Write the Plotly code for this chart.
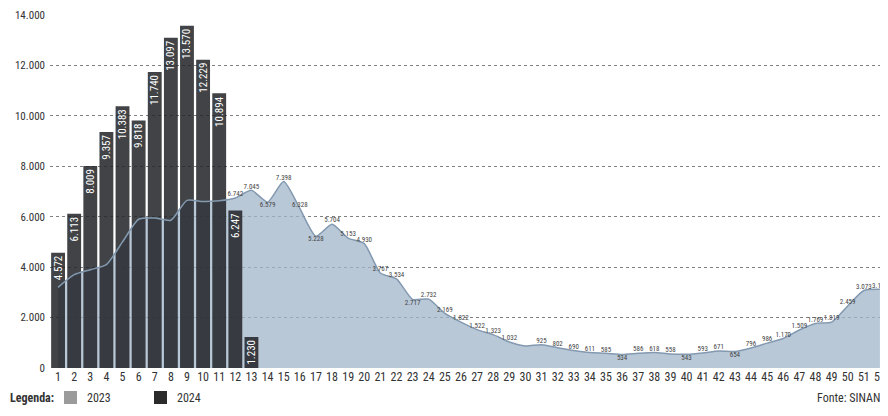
import plotly.graph_objects as go

weeks = list(range(1, 53))
cases_2023 = [3200, 3700, 3900, 4100, 5000, 5900, 5950, 5861, 6650, 6600, 6631, 6742,
              7045, 6579, 7398, 6328, 5228, 5704, 5153, 4930, 3767, 3534, 2717, 2732,
              2169, 1822, 1522, 1323, 1032, 874, 925, 802, 690, 611, 585, 534,
              586, 618, 558, 543, 593, 671, 654, 796, 986, 1170, 1509, 1769,
              1819, 2459, 3073, 3119]
labels_2023 = ["", "", "", "", "", "", "", "", "", "", "", "6.742",
               "7.045", "6.579", "7.398", "6.328", "5.228", "5.704", "5.153", "4.930", "3.767", "3.534", "2.717", "2.732",
               "2.169", "1.822", "1.522", "1.323", "1.032", "", "925", "802", "690", "611", "585", "534",
               "586", "618", "558", "543", "593", "671", "654", "796", "986", "1.170", "1.509", "1.769",
               "1.819", "2.459", "3.073", "3.119"]
label_pos_2023 = ["top center"] * 52
for w in (14, 17, 23, 36, 40, 43):
    label_pos_2023[w - 1] = "bottom center"

weeks_2024 = list(range(1, 14))
cases_2024 = [4572, 6113, 8009, 9357, 10383, 9818, 11740, 13097, 13570, 12229, 10894, 6247, 1230]
labels_2024 = ["4.572", "6.113", "8.009", "9.357", "10.383", "9.818", "11.740", "13.097",
               "13.570", "12.229", "10.894", "6.247", "1.230"]

y_ticks = [0, 2000, 4000, 6000, 8000, 10000, 12000, 14000]
y_tick_text = ["0", "2.000", "4.000", "6.000", "8.000", "10.000", "12.000", "14.000"]

font_main = "Liberation Sans Narrow, Roboto Condensed, Roboto, Liberation Sans, sans-serif"
X_RANGE = [0.5, 52.5]
Y_RANGE = [0, 14000]

# page offset of the figure (default body margin of the html page)
OFF = 8
ML, MR, MT, MB = 50 - OFF, OFF, 15 - OFF, 416 - 368 + OFF
PW = 888 - ML - MR
PH = 416 - MT - MB


def px(xp):
    return (xp - OFF - ML) / PW


def py(yp):
    return (416 - MB - (yp - OFF)) / PH


fig = go.Figure()

# 2023 area (base subplot)
fig.add_trace(go.Scatter(
    x=weeks, y=cases_2023, name="2023", mode="lines",
    line=dict(color="rgba(127,149,171,0)", width=0, shape="spline", smoothing=0.6),
    fill="tozeroy", fillcolor="rgba(162,182,202,0.75)",
    hoverinfo="skip", showlegend=False, xaxis="x", yaxis="y",
))

# 2024 bars (overlay subplot, drawn above the area)
fig.add_trace(go.Bar(
    x=weeks_2024, y=cases_2024, name="2024",
    marker=dict(color="rgba(34,36,40,0.86)", line=dict(width=0)),
    text=labels_2024, textposition="inside", insidetextanchor="end",
    textangle=-90, textfont=dict(color="white", size=11, family=font_main),
    showlegend=False, xaxis="x2", yaxis="y2",
))

# 2023 line + labels (top overlay)
fig.add_trace(go.Scatter(
    x=weeks, y=cases_2023, name="2023 line", mode="lines+text",
    line=dict(color="#8299b0", width=1.5, shape="spline", smoothing=0.6),
    text=labels_2023, textposition=label_pos_2023,
    textfont=dict(size=7, color="#444444", family=font_main),
    showlegend=False, hoverinfo="skip", xaxis="x3", yaxis="y3",
))

hidden_x = dict(range=X_RANGE, visible=False, overlaying="x", automargin=False, fixedrange=True)
hidden_y = dict(range=Y_RANGE, visible=False, overlaying="y", automargin=False, fixedrange=True)

leg_y = py(398)

fig.update_layout(
    width=888, height=416,
    margin=dict(l=ML, r=MR, t=MT, b=MB, autoexpand=False),
    paper_bgcolor="white", plot_bgcolor="white",
    separators=",.",
    bargap=0.14,
    showlegend=False,
    uniformtext=dict(minsize=11, mode="show"),
    font=dict(family=font_main, color="#333333", size=12),
    xaxis=dict(
        range=X_RANGE, tickmode="array", tickvals=weeks,
        ticktext=[str(w) for w in weeks], showgrid=False, zeroline=False,
        showline=False, ticks="", tickfont=dict(size=12, color="#333333"),
        automargin=False,
    ),
    yaxis=dict(
        range=Y_RANGE, tickmode="array", tickvals=y_ticks, ticktext=y_tick_text,
        showgrid=True, gridcolor="#808080", griddash="dot", gridwidth=1,
        zeroline=False, showline=False, ticks="", ticklabelstandoff=4,
        tickfont=dict(size=11, color="#333333"), automargin=False,
    ),
    xaxis2=hidden_x, yaxis2=hidden_y,
    xaxis3=hidden_x, yaxis3=hidden_y,
    shapes=[
        dict(type="rect", xref="paper", yref="paper",
             x0=px(64), x1=px(77), y0=py(404), y1=py(391),
             fillcolor="#9b9b9b", line=dict(width=0)),
        dict(type="rect", xref="paper", yref="paper",
             x0=px(154), x1=px(167), y0=py(404), y1=py(391),
             fillcolor="#2b2b2b", line=dict(width=0)),
    ],
    annotations=[
        dict(text="<b>Legenda:</b>", x=px(8), y=leg_y,
             xref="paper", yref="paper", showarrow=False, xanchor="left",
             yanchor="middle", font=dict(size=12, color="#333333")),
        dict(text="2023", x=px(85), y=leg_y,
             xref="paper", yref="paper", showarrow=False, xanchor="left",
             yanchor="middle", font=dict(size=12, color="#333333")),
        dict(text="2024", x=px(175), y=leg_y,
             xref="paper", yref="paper", showarrow=False, xanchor="left",
             yanchor="middle", font=dict(size=12, color="#333333")),
        dict(text="Fonte: SINAN", x=px(882), y=leg_y,
             xref="paper", yref="paper", showarrow=False, xanchor="right",
             yanchor="middle", font=dict(size=12, color="#333333")),
    ],
)

fig.write_html("out.html")
